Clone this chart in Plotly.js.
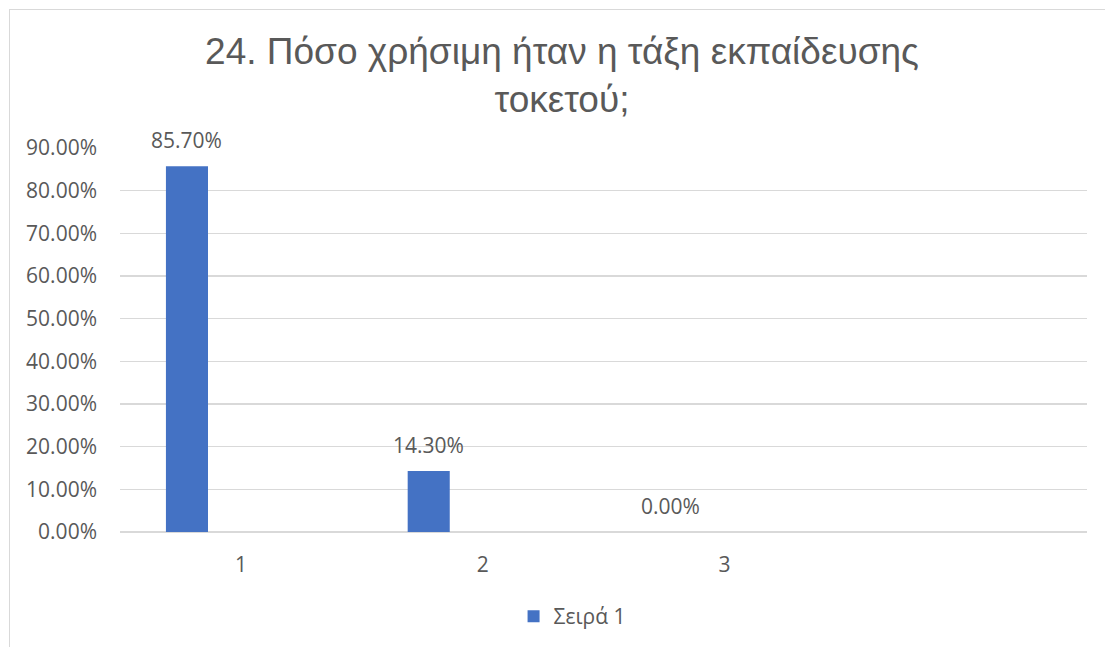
<!DOCTYPE html>
<html>
<head>
<meta charset="utf-8">
<script src="https://cdn.plot.ly/plotly-3.0.1.min.js"></script>
<style>
html,body{margin:0;padding:0;overflow:hidden;background:#fff;}
#chart{width:1105px;height:647px;}
#frame{position:absolute;left:9px;top:9px;width:1200px;height:800px;border:1px solid #d9d9d9;pointer-events:none;}
</style>
</head>
<body>
<div id="chart"></div>
<div id="frame"></div>
<script>
const categories = [1, 2, 3];
const categoryLabels = ['1', '2', '3'];
const seriesName = 'Σειρά 1';
const values = [0.857, 0.143, 0.0];
const valueLabels = ['85.70%', '14.30%', '0.00%'];
const yTicks = [0, 0.1, 0.2, 0.3, 0.4, 0.5, 0.6, 0.7, 0.8, 0.9];

const barOffset = -0.31;
const barWidth = 0.174;
const textColor = '#595959';
const bodyFont = 'Open Sans, Noto Sans, sans-serif';

const trace = {
  type: 'bar',
  x: categories,
  y: values,
  name: seriesName,
  offset: barOffset,
  width: barWidth,
  marker: {color: '#4472C4'},
  showlegend: true,
  hoverinfo: 'skip'
};

const annotations = categories.map((c, i) => ({
  x: c + barOffset + barWidth / 2,
  y: values[i],
  xref: 'x', yref: 'y',
  text: valueLabels[i],
  showarrow: false,
  yanchor: 'middle',
  xanchor: 'center',
  yshift: 26,
  font: {family: bodyFont, size: 21, color: textColor}
}));

const layout = {
  width: 1105, height: 647,
  margin: {l: 120, r: 18, t: 148, b: 115, pad: 0, autoexpand: false},
  paper_bgcolor: '#ffffff',
  plot_bgcolor: '#ffffff',
  title: {
    text: '24. Πόσο χρήσιμη ήταν η τάξη εκπαίδευσης<br>τοκετού;',
    font: {family: 'Liberation Sans, Arial, sans-serif', size: 37, color: textColor},
    x: 0.5086, xanchor: 'center',
    y: 0.901, yanchor: 'middle',
    xref: 'container', yref: 'container'
  },
  xaxis: {
    range: [0.5, 4.5],
    tickvals: categories,
    ticktext: categoryLabels,
    showgrid: false,
    zeroline: false,
    showline: false,
    ticks: '',
    ticklabelstandoff: 18,
    tickfont: {family: bodyFont, size: 21, color: textColor},
    fixedrange: true
  },
  yaxis: {
    range: [0, 0.9],
    tickvals: yTicks,
    tickformat: '.2%',
    showgrid: true,
    gridcolor: '#d9d9d9',
    gridwidth: 1.5,
    zeroline: true,
    zerolinecolor: '#d9d9d9',
    zerolinewidth: 1.5,
    showline: false,
    ticks: '',
    ticklabelstandoff: 22,
    tickfont: {family: bodyFont, size: 21, color: textColor},
    fixedrange: true
  },
  showlegend: true,
  legend: {
    orientation: 'h',
    x: 0.407, xanchor: 'left',
    y: -0.22, yanchor: 'middle',
    font: {family: bodyFont, size: 21, color: textColor},
    itemwidth: 30
  },
  annotations: annotations
};

Plotly.newPlot('chart', [trace], layout, {displayModeBar: false, staticPlot: true});
</script>
</body>
</html>
